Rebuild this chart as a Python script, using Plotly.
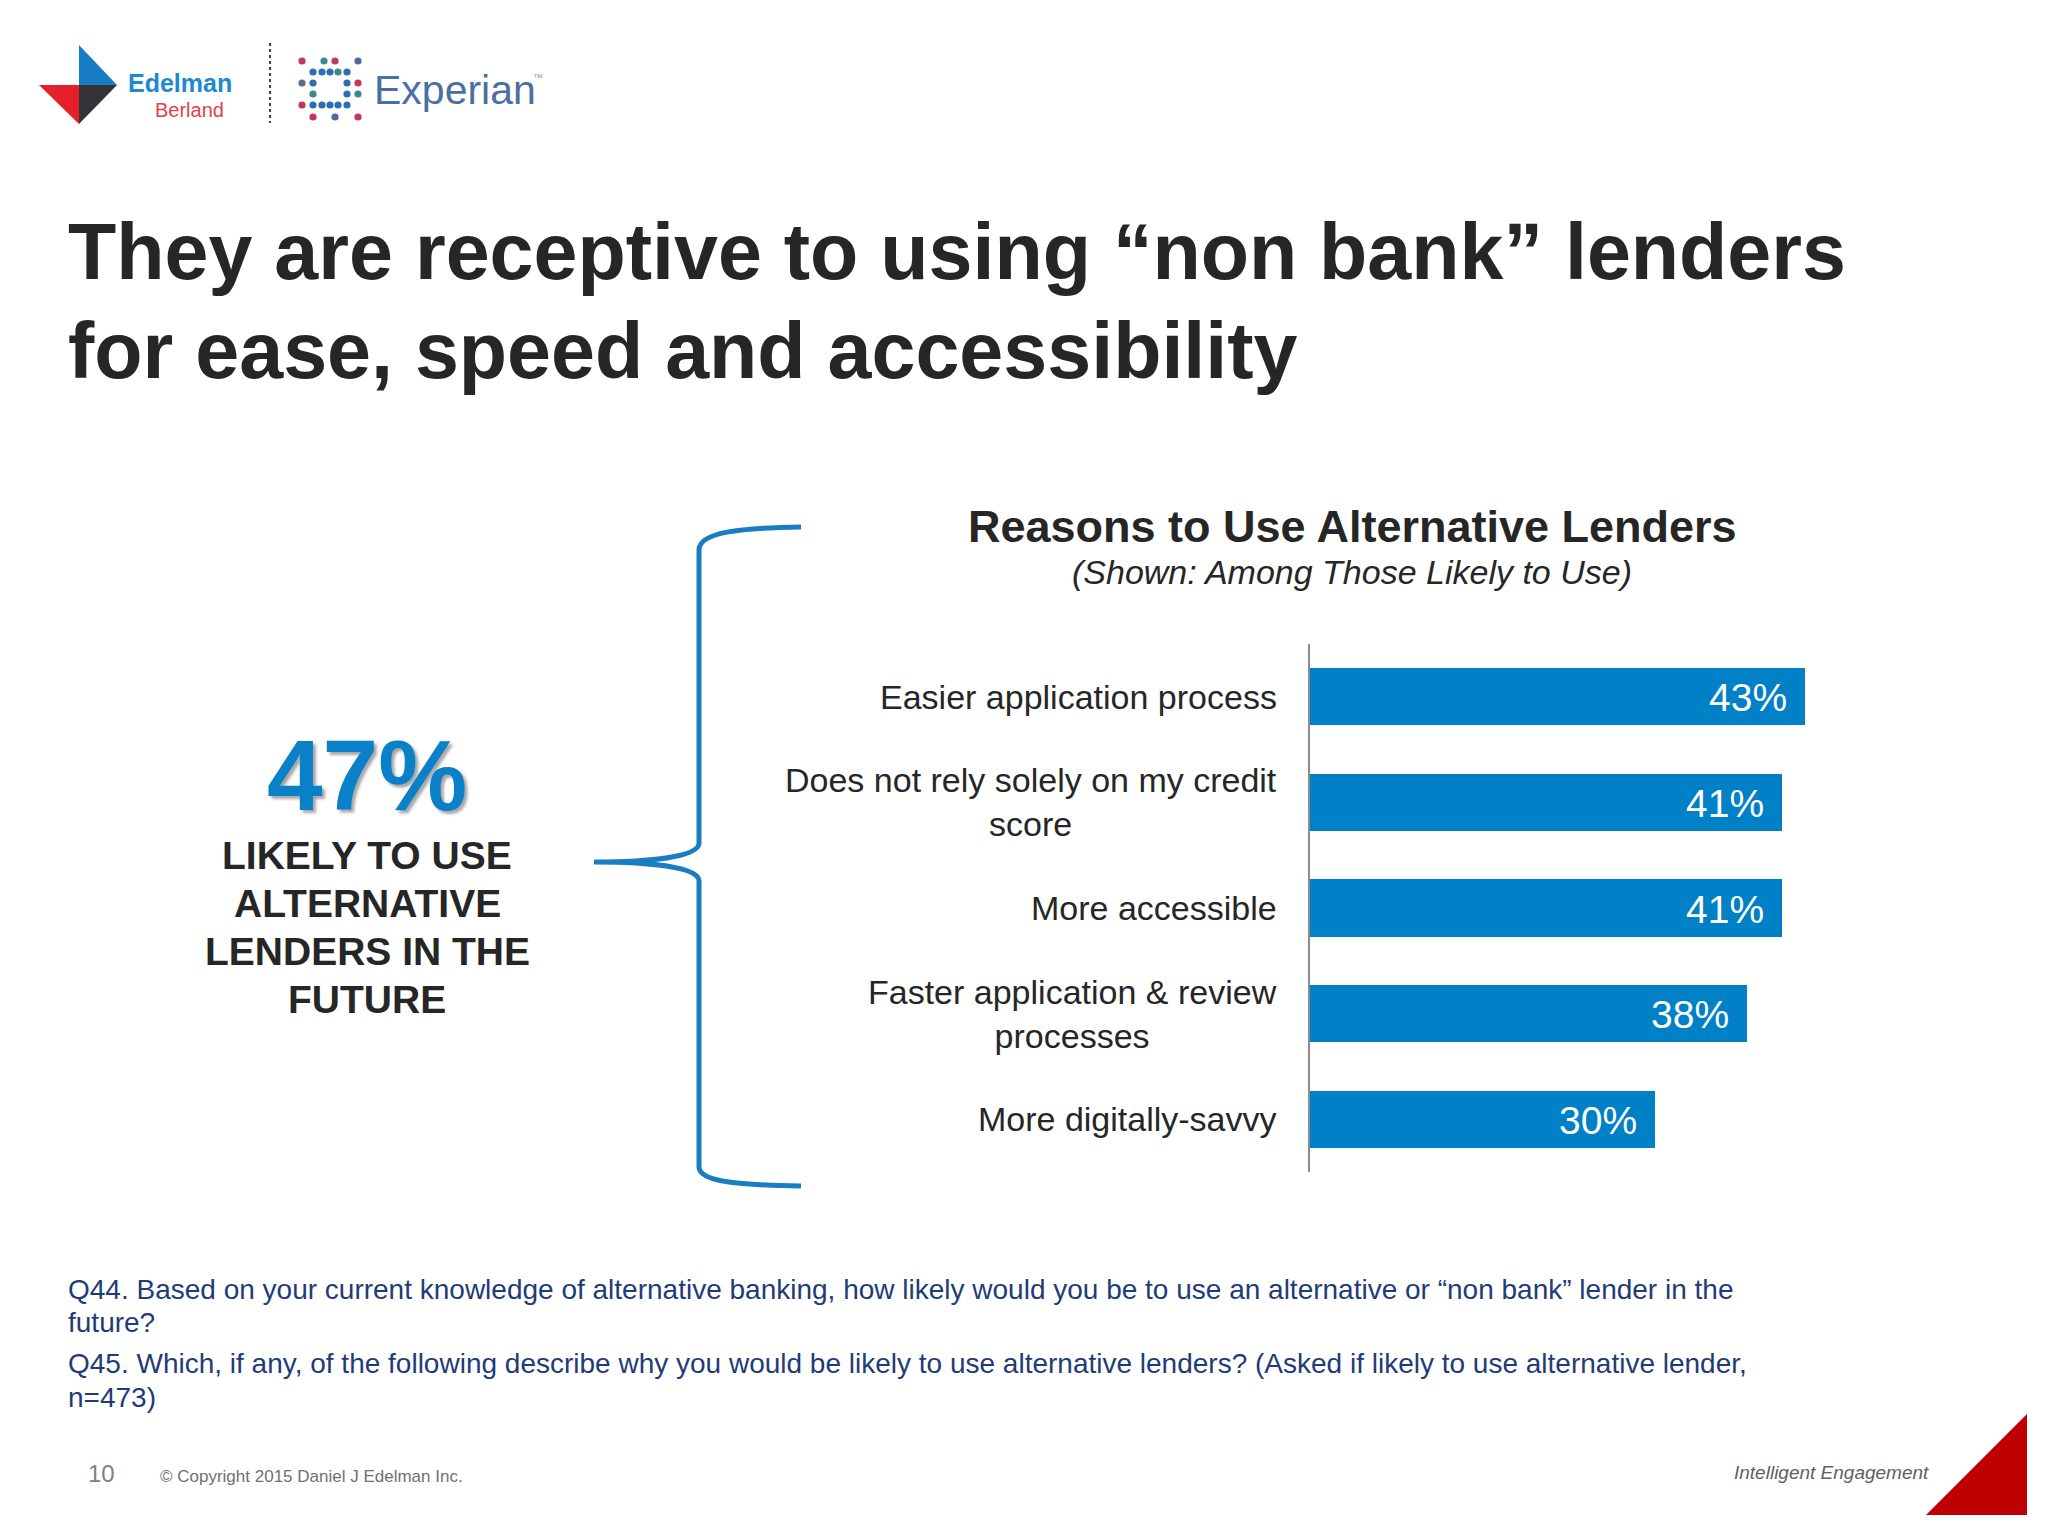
import plotly.graph_objects as go

# ---------------- data ----------------
categories = [
    "Easier application process",
    "Does not rely solely on my credit<br>score",
    "More accessible",
    "Faster application & review<br>processes",
    "More digitally-savvy",
]
values = [43, 41, 41, 38, 30]
value_labels = [f"{v}%" for v in values]

headline_value = "47%"
headline_lines = ["LIKELY TO USE", "ALTERNATIVE", "LENDERS IN THE", "FUTURE"]

title_lines = [
    "They are receptive to using \u201cnon bank\u201d lenders",
    "for ease, speed and accessibility",
]
chart_title = "Reasons to Use Alternative Lenders"
chart_subtitle = "(Shown: Among Those Likely to Use)"
footnotes = [
    "Q44. Based on your current knowledge of alternative banking, how likely would you be to use an alternative or \u201cnon bank\u201d lender in the",
    "future?",
    "Q45. Which, if any, of the following describe why you would be likely to use alternative lenders? (Asked if likely to use alternative lender,",
    "n=473)",
]

# ---------------- layout helpers ----------------
# the page body has an 8px margin, so the figure is drawn 8px smaller and
# all page coordinates are shifted by that offset
OFF = 8
W, H = 2048 - OFF, 1536 - OFF
FONT = "Liberation Sans, Arial, sans-serif"
BLUE = "#0080C6"
DARK = "#262626"


def px(x):
    return (x - OFF) / W


def py(y):
    return 1 - (y - OFF) / H


fig = go.Figure()

fig.add_trace(
    go.Bar(
        x=values,
        y=categories,
        orientation="h",
        marker=dict(color=BLUE, line=dict(width=0)),
        width=0.54,
        hoverinfo="skip",
    )
)

annotations = []
shapes = []

# category labels and value labels (data coordinates)
for cat, v, lab in zip(categories, values, value_labels):
    annotations.append(dict(
        x=0, y=cat, xref="x", yref="y", text=cat, showarrow=False,
        xanchor="right", yanchor="middle", align="center", xshift=-31,
        font=dict(family=FONT, size=34, color=DARK),
    ))
    annotations.append(dict(
        x=v, y=cat, xref="x", yref="y", text=lab, showarrow=False,
        xanchor="right", yanchor="middle", xshift=-16, yshift=-1,
        font=dict(family=FONT, size=39, color="white"),
    ))


def txt(x, y, text, size, color=DARK, xanchor="left", bold=False, italic=False,
        family=FONT, shadow=None, align="left"):
    f = dict(family=family, size=size, color=color)
    if bold:
        f["weight"] = "bold"
    if italic:
        f["style"] = "italic"
    if shadow:
        f["shadow"] = shadow
    annotations.append(dict(
        x=px(x), y=py(y), xref="paper", yref="paper", text=text, showarrow=False,
        xanchor=xanchor, yanchor="middle", font=f, align=align,
    ))


# main title
txt(66, 251, title_lines[0], 79, bold=True)
txt(66, 350, title_lines[1], 79, bold=True)

# chart title
txt(1352, 526, chart_title, 45, bold=True, xanchor="center")
txt(1352, 572, chart_subtitle, 34, italic=True, xanchor="center")

# headline
txt(367, 775, headline_value, 100, color="#0A80C8", bold=True, xanchor="center",
    shadow="3px 3px 3px rgba(0,0,0,0.35)")
for i, line in enumerate(headline_lines):
    txt(367, 855 + i * 48, line, 39, bold=True, xanchor="center")

# footnotes
for line, y in zip(footnotes, [1289, 1322, 1363, 1397]):
    txt(66, y, line, 28, color="#1F3B78")

# footer
txt(86, 1473, "10", 24, color="#808080")
txt(158, 1476, "\u00a9 Copyright 2015 Daniel J Edelman Inc.", 17, color="#707070")
txt(1931, 1472, "Intelligent Engagement", 19, color="#606060", italic=True, xanchor="right")

# Edelman Berland / Experian logos
txt(126, 83, "Edelman", 25, color="#1E88D0", bold=True)
txt(189, 110, "Berland", 20, color="#E0404A", xanchor="center")
txt(372, 90, "Experian", 41, color="#4A6FA5")
txt(531, 77, "\u2122", 10, color="#8899AA")


def path(points):
    d = "M " + " L ".join(f"{px(x):.5f},{py(y):.5f}" for x, y in points) + " Z"
    return d


for pts, col in [
    ([(79, 45), (117, 85), (79, 85)], "#1A7DC4"),
    ([(39, 85), (79, 85), (79, 124)], "#E42129"),
    ([(79, 85), (117, 85), (79, 124)], "#333338"),
]:
    shapes.append(dict(type="path", xref="paper", yref="paper", path=path(pts),
                       fillcolor=col, line=dict(width=0)))

# dotted separator
shapes.append(dict(type="line", xref="paper", yref="paper", x0=px(270), x1=px(270),
                   y0=py(43), y1=py(123), line=dict(color="#444444", width=2, dash="dot")))

# Experian dots
RED, BLU, TEA, GRY, BGR = "#C0375A", "#2D6DB5", "#3A8A8A", "#5A7080", "#4F6A9A"
dots = [
    (302, 61, RED), (324, 61, TEA), (335, 61, RED), (358, 61, BGR),
    (313, 72, BLU), (322, 72, BLU), (330, 72, BLU), (338, 72, TEA), (347, 72, BLU),
    (302, 83, GRY), (313, 83, BLU), (347, 83, BLU), (358, 83, RED),
    (313, 94, TEA), (347, 94, BLU), (358, 94, TEA),
    (302, 105, RED), (313, 105, BLU), (322, 105, BLU), (330, 105, BLU), (338, 105, BLU), (347, 105, BLU),
    (313, 117, RED), (335, 117, BGR), (358, 117, RED),
]
r = 3.6
for x, y, c in dots:
    shapes.append(dict(type="circle", xref="paper", yref="paper",
                       x0=px(x - r), x1=px(x + r), y0=py(y + r), y1=py(y - r),
                       fillcolor=c, line=dict(width=0)))


# curly brace
def p(x, y):
    return f"{px(x):.5f},{py(y):.5f}"


brace = (
    f"M {p(801, 527)} C {p(740, 528)} {p(699, 532)} {p(699, 550)} "
    f"L {p(699, 843)} C {p(699, 857)} {p(650, 862)} {p(594, 862)} "
    f"C {p(650, 862)} {p(699, 867)} {p(699, 881)} "
    f"L {p(699, 1167)} C {p(699, 1182)} {p(740, 1185)} {p(801, 1186)}"
)
shapes.append(dict(type="path", xref="paper", yref="paper", path=brace,
                   line=dict(color="#1A7DC4", width=5)))

# red corner triangle
shapes.append(dict(type="path", xref="paper", yref="paper",
                   path=path([(2027, 1414), (2027, 1515), (1926, 1515)]),
                   fillcolor="#C00000", line=dict(width=0)))

fig.update_layout(
    width=W, height=H,
    margin=dict(l=0, r=0, t=0, b=0),
    paper_bgcolor="white", plot_bgcolor="rgba(0,0,0,0)",
    showlegend=False,
    xaxis=dict(domain=[px(1310), px(1885)], range=[0, 50], visible=False,
               fixedrange=True),
    yaxis=dict(domain=[py(1172), py(644)], range=[4.5, -0.5], showline=True,
               linecolor="#8C8C8C", linewidth=2, showticklabels=False,
               ticks="", showgrid=False, zeroline=False, fixedrange=True),
    annotations=annotations,
    shapes=shapes,
    bargap=0,
)

fig.write_html("out.html")
